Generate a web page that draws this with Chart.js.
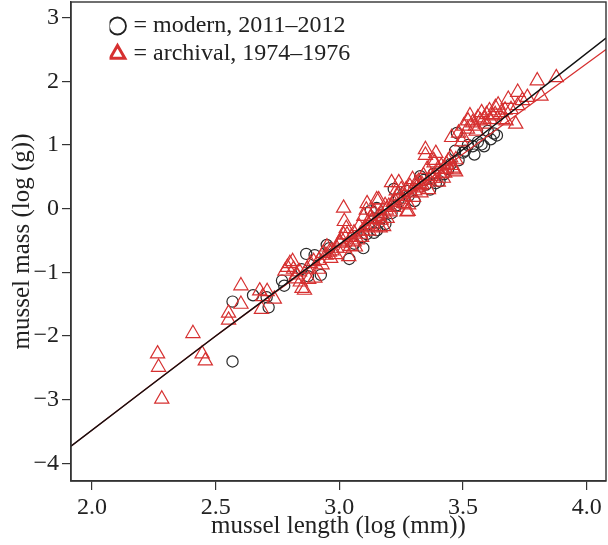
<!DOCTYPE html>
<html><head><meta charset="utf-8">
<script src="https://cdn.jsdelivr.net/npm/chart.js@4/dist/chart.umd.min.js"></script>
<style>html,body{margin:0;padding:0;background:#fff}</style>
</head><body>
<canvas id="c" width="608" height="545"></canvas>
<script>
const xTicks = [2.0, 2.5, 3.0, 3.5, 4.0];
const yTicks = [-4, -3, -2, -1, 0, 1, 2, 3];
const xTitle = 'mussel length (log (mm))';
const yTitle = 'mussel mass (log (g))';
const legendLabels = ['= modern, 2011\u20132012', '= archival, 1974\u20131976'];

const modernLength = [2.568, 2.568, 2.651, 2.714, 2.706, 2.768, 2.777, 2.847, 2.866, 2.873,
  2.900, 2.925, 2.949, 2.960, 3.040, 3.060, 3.097, 3.110, 3.127, 3.140,
  3.151, 3.152, 3.170, 3.186, 3.211, 3.220, 3.240, 3.270, 3.304, 3.327,
  3.341, 3.367, 3.381, 3.405, 3.423, 3.440, 3.468, 3.475, 3.482, 3.500,
  3.508, 3.520, 3.539, 3.546, 3.560, 3.575, 3.585, 3.600, 3.612, 3.625, 3.637,
  3.090, 3.160, 3.230, 3.280, 3.350, 3.390, 3.450];
const modernMass = [-1.46, -2.40, -1.36, -1.55, -1.39, -1.13, -1.21, -0.95, -0.71, -1.06,
  -0.73, -1.04, -0.57, -0.62, -0.79, -0.55, -0.62, -0.40, -0.03, -0.38,
  0.01, -0.34, -0.15, -0.24, -0.07, 0.31, 0.15, 0.28, 0.12, 0.51,
  0.45, 0.30, 0.55, 0.43, 0.54, 0.62, 0.91, 1.19, 0.76, 0.88,
  0.91, 1.00, 0.98, 0.85, 1.05, 1.01, 0.98, 1.22, 1.09, 1.18, 1.15,
  -0.45, -0.22, 0.05, 0.20, 0.38, 0.40, 0.70];

const archivalLength = [2.265, 2.269, 2.282, 2.408, 2.445, 2.458, 2.552, 2.552, 2.602, 2.602,
  2.678, 2.685, 2.708, 2.737, 2.690,
  2.790, 2.800, 2.811, 2.815, 2.826, 2.839, 2.842, 2.849, 2.859, 2.876,
  2.883, 2.896, 2.901, 2.915, 2.918, 2.935, 2.946, 2.950, 2.965, 2.970,
  2.985, 2.989, 3.000, 3.004, 3.010, 3.017, 3.017, 3.020, 3.028, 3.031,
  3.038, 3.045, 3.050, 3.059, 3.065, 3.073, 3.080, 3.085, 3.095, 3.099,
  3.105, 3.109, 3.112, 3.118, 3.125, 3.134, 3.140, 3.151, 3.158, 3.159,
  3.165, 3.169, 3.179, 3.185, 3.193, 3.200, 3.205, 3.211, 3.218, 3.225,
  3.232, 3.240, 3.250, 3.255, 3.263, 3.273, 3.278, 3.280, 3.285, 3.290,
  3.296, 3.305, 3.313, 3.320, 3.328, 3.334, 3.340, 3.348, 3.348, 3.355,
  3.362, 3.370, 3.381, 3.383, 3.390, 3.398, 3.405, 3.412, 3.420, 3.426,
  3.433, 3.440, 3.455, 3.461, 3.462, 3.471, 3.454, 3.482, 3.495, 3.503,
  3.518, 3.528, 3.539, 3.553, 3.560, 3.575, 3.585, 3.595, 3.607, 3.620,
  3.631, 3.642, 3.655, 3.660, 3.674, 3.683, 3.694, 3.713, 3.721, 3.721,
  3.740, 3.760, 3.800, 3.815, 3.877,
  3.020, 3.060, 3.090, 3.120, 3.140, 3.170, 3.190, 3.220, 3.230, 3.260,
  3.270, 3.300, 3.310, 3.330, 3.360, 3.380, 3.400, 3.430, 3.450, 3.470,
  3.500, 3.520, 3.550, 3.570, 3.590, 3.610, 3.630, 3.670, 2.930, 2.960,
  2.870, 2.820, 2.780];
const archivalMass = [-2.28, -2.49, -2.99, -1.96, -2.28, -2.39, -1.64, -1.75, -1.21, -1.50,
  -1.29, -1.58, -1.30, -1.42, -1.38,
  -0.92, -0.86, -0.83, -0.95, -1.04, -0.99, -1.15, -1.25, -1.28, -1.11,
  -0.86, -0.83, -1.09, -0.95, -0.81, -0.70, -0.73, -0.60, -0.78, -0.66,
  -0.72, -0.62, -0.52, -0.54, -0.49, 0.01, -0.41, -0.20, -0.31, -0.41,
  -0.75, -0.59, -0.45, -0.38, -0.60, -0.49, -0.28, -0.40, -0.35, -0.12,
  -0.30, -0.02, 0.08, -0.25, -0.15, -0.17, -0.05, 0.14, -0.12, 0.14,
  -0.30, -0.18, -0.28, 0.05, -0.15, 0.04, -0.05, 0.41, 0.10, 0.12,
  0.20, 0.41, 0.30, 0.15, 0.19, -0.05, -0.04, 0.06, 0.35, 0.25,
  0.46, 0.28, 0.33, 0.43, 0.36, 0.38, 0.52, 0.93, 0.84, 0.62,
  0.45, 0.51, 0.76, 0.72, 0.87, 0.62, 0.55, 0.67, 0.48, 0.56,
  0.70, 0.75, 0.68, 0.64, 0.61, 0.77, 1.12, 1.19, 1.05, 1.30,
  1.25, 1.46, 1.35, 1.22, 1.43, 1.51, 1.41, 1.48, 1.54, 1.46,
  1.59, 1.63, 1.51, 1.40, 1.38, 1.72, 1.56, 1.33, 1.83, 1.62,
  1.70, 1.75, 2.01, 1.77, 2.06,
  -0.62, -0.52, -0.45, -0.35, -0.28, -0.08, -0.02, 0.02, 0.28, 0.08,
  0.30, 0.18, 0.40, 0.25, 0.30, 0.48, 0.42, 0.62, 0.80, 0.58,
  1.12, 1.38, 1.30, 1.38, 1.33, 1.40, 1.48, 1.55, -0.88, -0.68,
  -0.95, -1.10, -0.98];

const fitLength = [1.915, 2.5, 3.0, 3.5, 4.078];
const modernFit = [-3.73, -2.00, -0.56, 0.93, 2.68];
const archivalFit = [-3.73, -2.00, -0.58, 0.86, 2.50];

const BLACK = '#2a2a2a';
const RED = '#d63030';
const pts = (xs, ys) => xs.map((x, i) => ({x: x, y: ys[i]}));

Chart.defaults.font.family = "'Liberation Serif', 'DejaVu Serif', serif";
Chart.defaults.color = '#222';

const boxPlugin = {
  id: 'box',
  afterLayout(chart) {
    chart.legend.left = 109.5;
    chart.legend.top = 10;
  },
  afterDraw(chart) {
    const a = chart.chartArea, ctx = chart.ctx;
    ctx.save();
    ctx.strokeStyle = '#333';
    ctx.lineWidth = 1.4;
    ctx.strokeRect(a.left, a.top, a.right - a.left, a.bottom - a.top);
    ctx.restore();
  }
};

new Chart(document.getElementById('c'), {
  type: 'scatter',
  data: {
    datasets: [
      {type: 'line', label: 'modern fit', data: pts(fitLength, modernFit), borderColor: '#111', borderWidth: 1.4, pointRadius: 0, tension: 0.3, fill: false, order: 0},
      {type: 'line', label: 'archival fit', data: pts(fitLength, archivalFit), borderColor: RED, borderWidth: 1.3, pointRadius: 0, tension: 0.3, fill: false, order: 0},
      {label: 'archival', data: pts(archivalLength, archivalMass), pointStyle: 'triangle', pointRadius: 8.2, borderColor: RED, borderWidth: 1.2, backgroundColor: 'rgba(0,0,0,0)', order: 1},
      {label: 'modern', data: pts(modernLength, modernMass), pointStyle: 'circle', pointRadius: 5.6, borderColor: BLACK, borderWidth: 1.2, backgroundColor: 'rgba(0,0,0,0)', order: 2}
    ]
  },
  options: {
    responsive: false,
    animation: false,
    layout: {autoPadding: false, padding: {top: 2, right: 2, left: 0, bottom: 0}},
    plugins: {
      tooltip: {enabled: false},
      legend: {
        position: 'chartArea',
        align: 'start',
        labels: {
          usePointStyle: true,
          boxWidth: 8,
          boxHeight: 12,
          padding: 4,
          color: '#222',
          font: {size: 24},
          generateLabels: () => [
            {text: legendLabels[0], pointStyle: 'circle', strokeStyle: '#222', fillStyle: 'rgba(0,0,0,0)', lineWidth: 1.8, hidden: false, datasetIndex: 3, fontColor: '#222'},
            {text: legendLabels[1], pointStyle: 'triangle', strokeStyle: RED, fillStyle: 'rgba(0,0,0,0)', lineWidth: 3, hidden: false, datasetIndex: 2, fontColor: '#222'}
          ]
        }
      }
    },
    scales: {
      x: {
        type: 'linear',
        min: 1.915, max: 4.078,
        afterBuildTicks: s => { s.ticks = xTicks.map(v => ({value: v})); },
        afterFit: s => { s.height = 64; s.paddingLeft = 0; s.paddingRight = 0; },
        ticks: {font: {size: 24}, color: '#222', padding: 3, maxRotation: 0, callback: v => Number(v).toFixed(1)},
        grid: {drawOnChartArea: false, drawTicks: true, tickLength: 9, color: '#333', lineWidth: 1.2},
        border: {display: true, color: '#333', width: 1.4},
        title: {display: true, text: xTitle, font: {size: 25}, color: '#222', padding: {top: 0, bottom: 4}}
      },
      y: {
        type: 'linear',
        min: -4.278, max: 3.247,
        afterBuildTicks: s => { s.ticks = yTicks.map(v => ({value: v})); },
        afterFit: s => { s.width = 71; s.paddingTop = 0; s.paddingBottom = 0; },
        ticks: {font: {size: 24}, color: '#222', padding: 3, callback: v => (v < 0 ? '\u2212' + Math.abs(v) : String(v))},
        grid: {drawOnChartArea: false, drawTicks: true, tickLength: 9, color: '#333', lineWidth: 1.2},
        border: {display: true, color: '#333', width: 1.4},
        title: {display: true, text: yTitle, font: {size: 25}, color: '#222', padding: {top: 7, bottom: 0}}
      }
    }
  },
  plugins: [boxPlugin]
});
</script>
</body></html>
